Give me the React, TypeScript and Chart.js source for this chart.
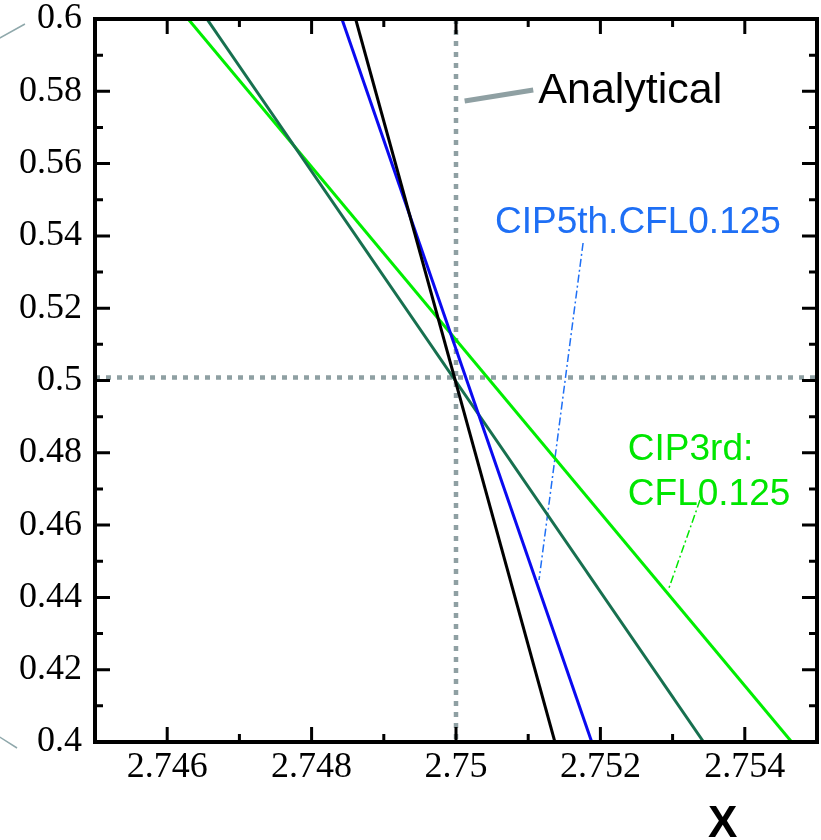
import { useEffect, useRef } from "react";
import { Chart, registerables } from "chart.js";

Chart.register(...registerables);

// Axis ranges and ticks
const xRange = [2.745, 2.755];
const yRange = [0.4, 0.6];
const xTicks = [2.746, 2.748, 2.75, 2.752, 2.754];
const xTickLabels = ["2.746", "2.748", "2.75", "2.752", "2.754"];
const xMinorTicks = [2.747, 2.749, 2.751, 2.753];
const yTicks = [0.4, 0.42, 0.44, 0.46, 0.48, 0.5, 0.52, 0.54, 0.56, 0.58, 0.6];
const yTickLabels = ["0.4", "0.42", "0.44", "0.46", "0.48", "0.5", "0.52", "0.54", "0.56", "0.58", "0.6"];
const yMinorTicks = [0.41, 0.43, 0.45, 0.47, 0.49, 0.51, 0.53, 0.55, 0.57, 0.59];

// Series (endpoints across the visible window)
const seriesY = [0.6, 0.4];
const blackX = [2.74861, 2.75137];
const blueX = [2.74842, 2.75188];
const darkGreenX = [2.74655, 2.75343];
const brightGreenX = [2.74629, 2.75465];

// Reference (analytical) dotted lines
const refVertX = [2.75, 2.75];
const refVertY = [0.6, 0.4];
const refHorzX = [2.745, 2.755];
const refHorzY = [0.5008, 0.5008];

// Leader lines for annotations
const analyticalLeaderX = [2.75012, 2.75107];
const analyticalLeaderY = [0.57732, 0.58036];
const cip5LeaderX = [2.75176, 2.75115];
const cip5LeaderY = [0.53804, 0.44481];
const cip3LeaderX = [2.75338, 2.75294];
const cip3LeaderY = [0.46694, 0.44205];

// Decorative strokes outside the left axis
const outerTopX = [2.74368, 2.74403];
const outerTopY = [0.59474, 0.59862];
const outerBottomX = [2.74368, 2.74392];
const outerBottomY = [0.40138, 0.39834];

// Annotation texts (x = left edge, y = baseline)
const annotationTexts = ["Analytical", "CIP5th.CFL0.125", "CIP3rd:", "CFL0.125"];
const annotationX = [2.75114, 2.75054, 2.75238, 2.75238];
const annotationY = [0.57676, 0.5408, 0.478, 0.46556];
const annotationColors = ["#000000", "#1e6ff5", "#00e600", "#00e600"];
const annotationSizes = [43, 37, 37, 37];

const axisTitle = "X";
const axisTitlePos = [2.75349, 0.37372];

const pts = (xs: number[], ys: number[]) => xs.map((x, i) => ({ x, y: ys[i] }));

const framePlugin = {
  id: "frameTicks",
  afterDatasetsDraw(chart: any) {
    const { ctx, chartArea: a, scales } = chart;
    const xs = scales.x;
    const ys = scales.y;
    ctx.save();
    ctx.strokeStyle = "#000";
    ctx.lineWidth = 3;
    ctx.lineCap = "butt";
    ctx.beginPath();
    const xTick = (v: number, len: number) => {
      const p = xs.getPixelForValue(v);
      ctx.moveTo(p, a.bottom);
      ctx.lineTo(p, a.bottom - len);
      ctx.moveTo(p, a.top);
      ctx.lineTo(p, a.top + len);
    };
    const yTick = (v: number, len: number) => {
      const p = ys.getPixelForValue(v);
      ctx.moveTo(a.left, p);
      ctx.lineTo(a.left + len, p);
      ctx.moveTo(a.right, p);
      ctx.lineTo(a.right - len, p);
    };
    xTicks.forEach((v) => xTick(v, 15));
    xMinorTicks.forEach((v) => xTick(v, 8));
    yTicks.forEach((v) => yTick(v, 15));
    yMinorTicks.forEach((v) => yTick(v, 8));
    ctx.stroke();
    ctx.lineWidth = 4;
    ctx.strokeRect(a.left, a.top, a.right - a.left, a.bottom - a.top);

    // outer decorative strokes
    ctx.strokeStyle = "#8fa8ab";
    ctx.lineWidth = 1.5;
    ctx.beginPath();
    ctx.moveTo(xs.getPixelForValue(outerTopX[0]), ys.getPixelForValue(outerTopY[0]));
    ctx.lineTo(xs.getPixelForValue(outerTopX[1]), ys.getPixelForValue(outerTopY[1]));
    ctx.moveTo(xs.getPixelForValue(outerBottomX[0]), ys.getPixelForValue(outerBottomY[0]));
    ctx.lineTo(xs.getPixelForValue(outerBottomX[1]), ys.getPixelForValue(outerBottomY[1]));
    ctx.stroke();

    // annotation texts
    ctx.textAlign = "left";
    ctx.textBaseline = "alphabetic";
    annotationTexts.forEach((t, i) => {
      ctx.fillStyle = annotationColors[i];
      ctx.font = `${annotationSizes[i]}px "Liberation Sans", Arial, sans-serif`;
      ctx.fillText(t, xs.getPixelForValue(annotationX[i]), ys.getPixelForValue(annotationY[i]));
    });

    ctx.fillStyle = "#000";
    ctx.font = `bold 44px "Liberation Sans", Arial, sans-serif`;
    ctx.fillText(axisTitle, xs.getPixelForValue(axisTitlePos[0]), ys.getPixelForValue(axisTitlePos[1]));
    ctx.restore();
  },
};

export default function App() {
  const ref = useRef<HTMLCanvasElement | null>(null);
  useEffect(() => {
    if (!ref.current) return;
    const lineDs = (label: string, xs: number[], ys: number[], color: string, width: number, dash: number[] = []) => ({
      label,
      data: pts(xs, ys),
      borderColor: color,
      backgroundColor: color,
      borderWidth: width,
      borderDash: dash,
      borderCapStyle: "butt" as const,
      pointRadius: 0,
      fill: false,
      tension: 0,
    });
    const chart = new Chart(ref.current, {
      type: "line",
      data: {
        datasets: [
          lineDs("black", blackX, seriesY, "#000000", 3),
          lineDs("blue", blueX, seriesY, "#0a0af0", 3),
          lineDs("darkgreen", darkGreenX, seriesY, "#17704f", 3),
          lineDs("brightgreen", brightGreenX, seriesY, "#00ee00", 3),
          lineDs("refV", refVertX, refVertY, "#8fa0a3", 4.5, [5, 6]),
          lineDs("refH", refHorzX, refHorzY, "#8fa0a3", 4.5, [5, 6]),
          lineDs("leaderA", analyticalLeaderX, analyticalLeaderY, "#8fa0a3", 5),
          lineDs("leader5", cip5LeaderX, cip5LeaderY, "#1e6ff5", 1.5, [8, 3, 2, 3]),
          lineDs("leader3", cip3LeaderX, cip3LeaderY, "#00e600", 1.5, [8, 3, 2, 3]),
        ],
      },
      options: {
        responsive: false,
        animation: false,
        layout: { padding: { top: 19, right: 4, left: 0, bottom: 0 } },
        plugins: { legend: { display: false }, tooltip: { enabled: false } },
        scales: {
          x: {
            type: "linear",
            min: xRange[0],
            max: xRange[1],
            grid: { display: false, drawTicks: false },
            border: { display: false },
            afterBuildTicks: (s: any) => {
              s.ticks = xTicks.map((value) => ({ value }));
            },
            afterFit: (s: any) => {
              s.height = 98;
              s.paddingLeft = 0;
              s.paddingRight = 0;
            },
            ticks: {
              padding: 4,
              color: "#000",
              maxRotation: 0,
              autoSkip: false,
              font: { family: '"Liberation Serif", "Times New Roman", serif', size: 36 },
              callback: (v: any) => {
                const i = xTicks.findIndex((t) => Math.abs(t - Number(v)) < 1e-9);
                return i >= 0 ? xTickLabels[i] : "";
              },
            },
          },
          y: {
            type: "linear",
            min: yRange[0],
            max: yRange[1],
            grid: { display: false, drawTicks: false },
            border: { display: false },
            afterBuildTicks: (s: any) => {
              s.ticks = yTicks.map((value) => ({ value }));
            },
            afterFit: (s: any) => {
              s.width = 95;
              s.paddingTop = 0;
              s.paddingBottom = 0;
            },
            ticks: {
              padding: 13,
              color: "#000",
              autoSkip: false,
              font: { family: '"Liberation Serif", "Times New Roman", serif', size: 36 },
              callback: (v: any) => {
                const i = yTicks.findIndex((t) => Math.abs(t - Number(v)) < 1e-9);
                return i >= 0 ? yTickLabels[i] : "";
              },
            },
          },
        },
      },
      plugins: [framePlugin],
    });
    return () => chart.destroy();
  }, []);
  return (
    <div style={{ position: "absolute", left: 0, top: 0, width: 821, height: 840, background: "#fff" }}>
      <canvas ref={ref} width={821} height={840} style={{ display: "block" }} />
    </div>
  );
}
